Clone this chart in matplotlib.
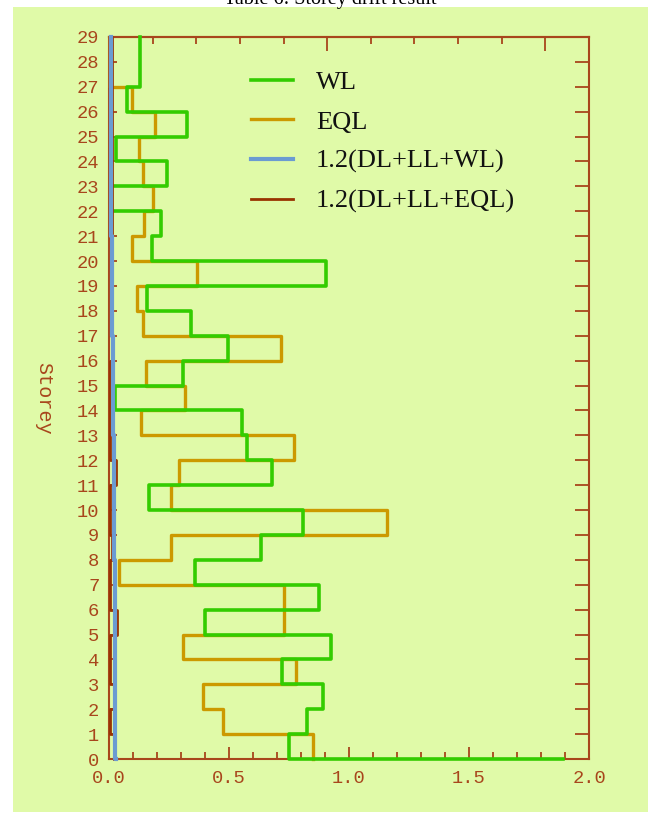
import numpy as np
import matplotlib
matplotlib.use("Agg")
import matplotlib.pyplot as plt
from matplotlib.patches import Rectangle

# storey drift values, index = storey (value k applies to interval k-1..k, k=0 is base)
storey = np.arange(0, 30)
wl = [1.89, 0.75, 0.825, 0.89, 0.72, 0.925, 0.40, 0.875, 0.36, 0.635, 0.81,
      0.165, 0.68, 0.575, 0.555, 0.025, 0.31, 0.495, 0.34, 0.16, 0.905,
      0.18, 0.215, 0.01, 0.24, 0.03, 0.325, 0.075, 0.13, 0.13]
eql = [0.85, 0.85, 0.475, 0.39, 0.78, 0.31, 0.73, 0.73, 0.04, 0.26, 1.16,
       0.26, 0.29, 0.77, 0.135, 0.315, 0.155, 0.715, 0.14, 0.115, 0.365,
       0.095, 0.145, 0.185, 0.14, 0.125, 0.19, 0.095, 0.005, 0.005]
comb_wl = [0.028, 0.027, 0.027, 0.026, 0.026, 0.025, 0.025, 0.024, 0.023, 0.022, 0.021,
           0.020, 0.020, 0.019, 0.018, 0.017, 0.016, 0.015, 0.014, 0.013, 0.012,
           0.011, 0.010, 0.009, 0.009, 0.008, 0.008, 0.007, 0.007, 0.007]
comb_eql = [0.020, 0.022, 0.004, 0.022, 0.004, 0.004, 0.035, 0.004, 0.004, 0.012, 0.004,
            0.004, 0.030, 0.004, 0.004, 0.004, 0.004, 0.012, 0.012, 0.012, 0.012,
            0.012, 0.012, 0.012, 0.012, 0.012, 0.012, 0.012, 0.012, 0.012]

labels = ["WL", "EQL", "1.2(DL+LL+WL)", "1.2(DL+LL+EQL)"]
colors = ["#33cc00", "#cc9900", "#6b9bd2", "#993300"]

bg = "#e0faa8"
axc = "#a8461c"
tick_font = "Liberation Mono"

fig = plt.figure(figsize=(6.48, 8.24), dpi=100, facecolor="white")
fig.patches.append(Rectangle((13 / 648, 12 / 824), 1, 1 - 19 / 824,
                             transform=fig.transFigure, facecolor=bg,
                             edgecolor="none", zorder=-10))
fig.text(0.51, 1 - 4 / 824, "Table 6: Storey drift result", ha="center",
         va="baseline", fontsize=14.5, family="Liberation Serif", color="black")

ax = fig.add_axes([109 / 648, 65 / 824, 480 / 648, 722 / 824])
ax.set_facecolor(bg)

top = ax.twiny()
top.set_xlim(0, 2.0)
top.set_xticks([2 / 11 * 5, 2 / 11 * 10])
top.set_xticks([2 / 11 * k for k in (1, 2, 3, 4, 6, 7, 8, 9)], minor=True)
top.set_xticklabels([])
top.tick_params(axis="x", which="major", direction="in", length=10, width=1.3, color=axc)
top.tick_params(axis="x", which="minor", direction="in", length=5, width=1.3, color=axc)
for side, s in top.spines.items():
    s.set_color(axc)
    s.set_linewidth(1.5)
    s.set_visible(side == "top")
top.set_zorder(0)
ax.set_zorder(1)
ax.patch.set_visible(False)

ax.plot(eql, storey, drawstyle="steps-post", color=colors[1], lw=2.4, label=labels[1],
        zorder=3, clip_on=False)
ax.plot(wl, storey, drawstyle="steps-post", color=colors[0], lw=2.6, label=labels[0],
        zorder=3.1, clip_on=False)
ax.plot(comb_eql, storey, drawstyle="steps-post", color=colors[3], lw=2.0, label=labels[3],
        zorder=3.2, clip_on=False)
ax.plot(comb_wl, storey, drawstyle="steps-post", color=colors[2], lw=3.0, label=labels[2],
        zorder=3.3, clip_on=False)

ax.set_xlim(0, 2.0)
ax.set_ylim(0, 29)

for s in ax.spines.values():
    s.set_color(axc)
    s.set_linewidth(1.5)

ax.set_xticks([0, 0.5, 1.0, 1.5, 2.0])
ax.set_xticklabels(["0.0", "0.5", "1.0", "1.5", "2.0"])
ax.set_xticks(np.arange(0, 2.01, 0.1), minor=True)
ax.set_yticks(storey)
ax.tick_params(axis="x", which="major", direction="in", length=9, width=1.3,
               color=axc, labelcolor=axc, labelsize=13.5, pad=8, top=False)
ax.tick_params(axis="x", which="minor", direction="in", length=5, width=1.3, color=axc,
               top=False)
ax.tick_params(axis="y", which="major", direction="in", length=6, width=1.3,
               color=axc, labelcolor=axc, labelsize=13.5, pad=7,
               right=True)
for t in ax.get_xticklabels() + ax.get_yticklabels():
    t.set_family(tick_font)

# right side ticks are longer
for tk in ax.yaxis.get_major_ticks():
    tk.tick2line.set_markersize(10)

ax.set_ylabel("Storey", rotation=270, color=axc, fontsize=14.5, family=tick_font,
              labelpad=24, va="center")

h, l = ax.get_legend_handles_labels()
order = [1, 0, 3, 2]
leg = ax.legend([h[i] for i in order], [l[i] for i in order], loc="upper left",
                bbox_to_anchor=(0.296, 0.953), frameon=False,
                prop={"family": "Liberation Serif", "size": 19},
                handlelength=1.6, handletextpad=0.85, labelspacing=0.6,
                borderpad=0, borderaxespad=0)
for t in leg.get_texts():
    t.set_color("#111111")

fig.savefig("out.png", dpi=100, facecolor=fig.get_facecolor())
